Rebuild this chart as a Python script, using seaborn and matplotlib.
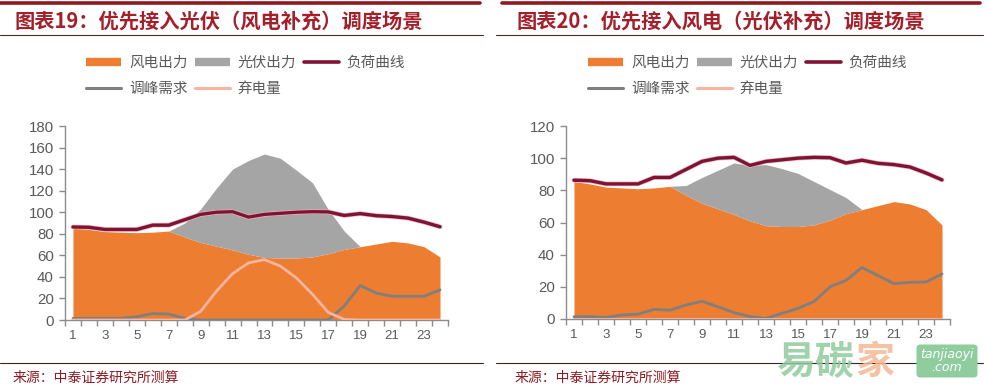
import matplotlib
matplotlib.use("Agg")
import matplotlib.pyplot as plt
import matplotlib.patheffects as pe
from matplotlib.lines import Line2D
import seaborn as sns

# ---------------- data ----------------
hours = list(range(1, 25))
x_tick_values = list(range(1, 24, 2))
x_tick_labels = [str(h) for h in x_tick_values]

wind = [85.5, 84, 82, 81.5, 81, 81.5, 82.5, 77, 72, 68.5, 65, 61,
        58, 57.5, 57.5, 58.5, 61.5, 65.5, 68, 70.5, 73, 71.5, 68, 58.5]
load = [86.3, 86, 84, 84, 84, 88, 88, 93, 98, 100, 100.5, 95.5,
        98, 99, 100, 100.5, 100.3, 97, 98.7, 96.8, 96, 94.5, 90.8, 86.5]

solar_19 = [0, 0, 0, 0, 0, 0, 0, 13, 31, 54, 75, 87,
            96, 92.5, 81.5, 69, 41, 17, 0, 0, 0, 0, 0, 0]
peak_19 = [1.5, 1.5, 1.5, 1.5, 3, 6, 5.5, 1.5, 0, 0, 0, 0,
           0, 0, 0, 0, 0, 13, 32, 25, 22, 22, 22, 28]
curtail_19 = [0, 0, 0, 0, 0, 0, 0, 0, 8, 27, 43, 53,
              56, 50, 39, 24, 7, 0.5, 0, 0, 0, 0, 0, 0]

solar_20 = [0, 0, 0, 0, 0, 0, 0, 6, 16, 24, 32, 34.5,
            38, 36, 33, 27, 19, 10, 0, 0, 0, 0, 0, 0]
peak_20 = [1.4, 1.5, 1, 2.5, 3, 6, 5.5, 8.7, 11, 7.6, 4, 1.5,
           0.4, 3.5, 6.6, 10.8, 20, 24, 32, 27, 22, 22.8, 23, 28]
curtail_20 = [0] * 24

titles = ["图表19：优先接入光伏（风电补充）调度场景",
          "图表20：优先接入风电（光伏补充）调度场景"]
legend_labels = ["风电出力", "光伏出力", "负荷曲线", "调峰需求", "弃电量"]
source_text = "来源：中泰证券研究所测算"
y_ticks_19 = list(range(0, 181, 20))
y_ticks_20 = list(range(0, 121, 20))

# ---------------- style ----------------
sns.set_theme(style="white")
plt.rcParams['font.family'] = ['Noto Sans CJK SC', 'DejaVu Sans']

C_WIND = "#ED7D31"
C_SOLAR = "#A5A5A5"
C_LOAD = "#7E1433"
C_PEAK = "#7F7F7F"
C_CURT = "#F7B49E"
C_TITLE = "#A3202B"
C_TICK = "#595959"

W, H = 988, 390
fig = plt.figure(figsize=(W / 100, H / 100), dpi=100)


def fx(px):
    return px / W


def fy(py):
    return 1 - py / H


def draw_panel(rect, solar, peak, curtail, yticks):
    ax = fig.add_axes(rect)
    stack_top = [w + s for w, s in zip(wind, solar)]
    ax.fill_between(hours, 0, wind, color=C_WIND, lw=0, zorder=1)
    ax.fill_between(hours, wind, stack_top, color=C_SOLAR, lw=0, zorder=1)
    sns.lineplot(x=hours, y=peak, ax=ax, color=C_PEAK, lw=2.0, zorder=3)
    sns.lineplot(x=hours, y=curtail, ax=ax, color=C_CURT, lw=2.0, zorder=3)
    sns.lineplot(x=hours, y=load, ax=ax, color=C_LOAD, lw=2.4, zorder=4,
                 path_effects=[pe.Stroke(linewidth=3.4, foreground="#EBB3C0"),
                               pe.Normal()])
    ax.set_xlim(0.5, 24.5)
    ax.set_ylim(yticks[0], yticks[-1])
    ax.set_yticks(yticks)
    ax.set_xticks(x_tick_values)
    ax.set_xticklabels(x_tick_labels)
    ax.set_xticks([h - 0.5 for h in hours] + [24.5], minor=True)
    for sp in ["top", "right"]:
        ax.spines[sp].set_visible(False)
    for sp in ["left", "bottom"]:
        ax.spines[sp].set_color("#8C8C8C")
        ax.spines[sp].set_linewidth(1.0)
    ax.tick_params(axis="x", which="major", length=0, pad=7,
                   labelsize=9.5, labelcolor=C_TICK)
    ax.tick_params(axis="x", which="minor", length=4, width=1,
                   color="#8C8C8C", direction="out", bottom=True)
    ax.tick_params(axis="y", length=4, width=1, color="#8C8C8C",
                   direction="out", left=True, labelsize=10.8,
                   labelcolor=C_TICK, pad=4)
    for lab in ax.get_xticklabels() + ax.get_yticklabels():
        lab.set_fontfamily("Liberation Sans")
    ax.set_xlabel("")
    ax.set_ylabel("")
    ax.patch.set_alpha(0)
    return ax


draw_panel([fx(65), 70 / H, 383 / W, 194 / H], solar_19, peak_19,
           curtail_19, y_ticks_19)
draw_panel([fx(566), 71 / H, 384 / W, 193 / H], solar_20, peak_20,
           curtail_20, y_ticks_20)

# ---------------- frame decorations ----------------
for x0, x1 in [(0, 480), (502, 980)]:
    fig.add_artist(Line2D([fx(x0), fx(x1)], [fy(3), fy(3)],
                          color="#8E1B22", lw=2.6))
    fig.add_artist(Line2D([fx(max(x0 - 6, 0)), fx(x1 + 3)], [fy(35), fy(35)],
                          color="#4A2A2A", lw=0.8))
    fig.add_artist(Line2D([fx(max(x0 - 6, 0)), fx(x1 + 3)], [fy(363), fy(363)],
                          color="#3A2525", lw=0.8))

fig.text(fx(15), fy(21), titles[0], fontsize=14.6, fontweight="bold",
         color=C_TITLE, va="center", ha="left")
fig.text(fx(517), fy(21), titles[1], fontsize=14.6, fontweight="bold",
         color=C_TITLE, va="center", ha="left")
fig.text(fx(13), fy(378), source_text, fontsize=10, color="#8E1B22",
         va="center", ha="left")
fig.text(fx(515), fy(378), source_text, fontsize=10, color="#8E1B22",
         va="center", ha="left")

# ---------------- legends ----------------
def make_handles():
    return [
        Line2D([], [], color=C_WIND, lw=6, solid_capstyle="butt"),
        Line2D([], [], color=C_PEAK, lw=2.2),
        Line2D([], [], color=C_SOLAR, lw=6, solid_capstyle="butt"),
        Line2D([], [], color=C_CURT, lw=2.2),
        Line2D([], [], color=C_LOAD, lw=2.6),
    ]


order_labels = [legend_labels[0], legend_labels[3], legend_labels[1],
                legend_labels[4], legend_labels[2]]
for lx in [86, 588]:
    leg = fig.legend(make_handles(), order_labels, ncol=3,
                     loc="upper left", bbox_to_anchor=(fx(lx), fy(56)),
                     frameon=False, fontsize=10.5, handlelength=2.4,
                     handletextpad=0.55, columnspacing=0.5,
                     labelspacing=0.85, borderpad=0, borderaxespad=0)
    for t in leg.get_texts():
        t.set_color(C_TICK)

# ---------------- watermark ----------------
fig.text(fx(776), fy(362), "易碳", fontsize=28, color="#8FCC9E",
         alpha=0.85, va="center", ha="left", fontweight="bold")
fig.text(fx(855), fy(362), "家", fontsize=28, color="#F3B894",
         alpha=0.85, va="center", ha="left", fontweight="bold")
fig.text(fx(947), fy(361), "tanjiaoyi\n.com", fontsize=9, color="white",
         va="center", ha="center", linespacing=0.95, style="italic",
         family="DejaVu Sans",
         bbox=dict(boxstyle="round,pad=0.3", fc="#8FCC9E", ec="none"))

fig.savefig("out.png", dpi=100)
